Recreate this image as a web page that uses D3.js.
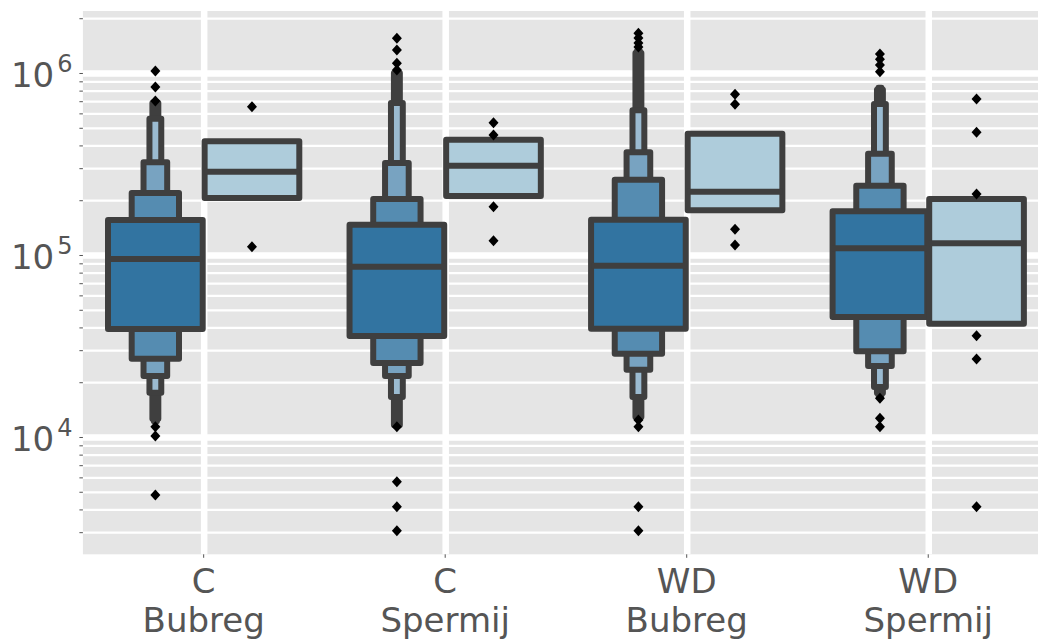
<!DOCTYPE html>
<html>
<head>
<meta charset="utf-8">
<script src="https://cdn.jsdelivr.net/npm/d3@7"></script>
<style>
  body { margin: 0; background: #fff; }
  svg { display: block; }
  text { font-family: "DejaVu Sans", sans-serif; fill: #555555; }
</style>
</head>
<body>
<svg id="chart" width="1038" height="641"></svg>
<script>
// ---- data -------------------------------------------------------------
const groupLabels  = ["C", "C", "WD", "WD"];
const tissueLabels = ["Bubreg", "Spermij", "Bubreg", "Spermij"];
const categories   = ["C Bubreg", "C Spermij", "WD Bubreg", "WD Spermij"];
const hueNames     = ["series1", "series2"];

// letter values per category, innermost (quartiles) first: [low, high]
const series1Letters = [
  [[39200, 155700], [26900, 219000], [21600, 323000], [17500, 561000], [12600, 684000], [12200, 695000]],
  [[35900, 146700], [25500, 203100], [21600, 320200], [16590, 684000], [11640, 1000000], [11500, 1015000]],
  [[39360, 156300], [28690, 259300], [23430, 366700], [16590, 623700], [12880, 1288000], [12600, 1320000]],
  [[45630, 173800], [29570, 240400], [24550, 360200], [18820, 675400], [17460, 809400], [17000, 830000]]
];
const series1Medians  = [95000, 86300, 87400, 108800];
const series1Outliers = [
  [1025000, 838000, 702000, 11400, 10130, 4800],
  [1551000, 1338000, 1131000, 1039000, 11400, 5680, 4140, 3055],
  [1652000, 1557000, 1462000, 1390000, 12400, 11400, 4140, 3055],
  [1272000, 1189000, 1106000, 1016500, 16330, 12670, 11400]
];

const series2Letters = [
  [[205700, 421300]],
  [[211000, 430000]],
  [[176000, 464000]],
  [[41930, 203100]]
];
const series2Medians  = [287000, 309500, 222800, 115900];
const series2Outliers = [
  [653000, 111000],
  [533000, 456300, 184200, 119800],
  [763800, 673000, 138400, 113500],
  [719500, 472100, 216400, 36020, 26830, 4140]
];

const yMajorTicks = [1e4, 1e5, 1e6];
const yTickExponents = ["4", "5", "6"];
const yDomain = [2267, 2191000];

// ---- layout -------------------------------------------------------------
const svg = d3.select("#chart");
const plot = { left: 82.9, right: 1049.0, top: 11, bottom: 554.3 };
const ink = "#3f3f3f";
const hueColors = ["#3274a1", "#aeccdb"];

const x = d3.scaleBand().domain(categories).range([plot.left, plot.right]).padding(0);
const bw = x.bandwidth();
const hueX = d3.scaleBand().domain(hueNames).range([-0.4 * bw, 0.4 * bw]).padding(0);
const boxWidth = hueX.bandwidth() * 0.98;
const y = d3.scaleLog().domain(yDomain).range([plot.bottom, plot.top]);

svg.append("defs").append("clipPath").attr("id", "plotclip")
  .append("rect").attr("x", plot.left).attr("y", plot.top)
  .attr("width", plot.right - plot.left).attr("height", plot.bottom - plot.top);

svg.append("rect")
  .attr("x", plot.left).attr("y", plot.top)
  .attr("width", plot.right - plot.left).attr("height", plot.bottom - plot.top)
  .attr("fill", "#e5e5e5");

// minor ticks: 2..9 x 10^k inside the domain
const yMinorTicks = [];
for (let e = 3; e <= 6; e++) {
  for (let m = 2; m <= 9; m++) {
    const v = m * Math.pow(10, e);
    if (v > yDomain[0] && v < yDomain[1]) yMinorTicks.push(v);
  }
}

const grid = svg.append("g").attr("clip-path", "url(#plotclip)");

// minor horizontal grid
grid.append("g")
  .attr("transform", `translate(${plot.left},0)`)
  .call(d3.axisLeft(y).tickValues(yMinorTicks).tickSize(-(plot.right - plot.left)).tickFormat(""))
  .call(g => g.select(".domain").remove())
  .call(g => g.selectAll("line").attr("stroke", "#fff").attr("stroke-width", 2.2));

// major horizontal grid
grid.append("g")
  .attr("transform", `translate(${plot.left},0)`)
  .call(d3.axisLeft(y).tickValues(yMajorTicks).tickSize(-(plot.right - plot.left)).tickFormat(""))
  .call(g => g.select(".domain").remove())
  .call(g => g.selectAll("line").attr("stroke", "#fff").attr("stroke-width", 6.5));

// vertical grid at category centres
const xCenters = categories.map(c => x(c) + bw / 2);
grid.append("g")
  .attr("transform", `translate(0,${plot.bottom})`)
  .call(d3.axisBottom(d3.scalePoint().domain(categories).range([xCenters[0], xCenters[3]]))
    .tickSize(-(plot.bottom - plot.top)).tickFormat(""))
  .call(g => g.select(".domain").remove())
  .call(g => g.selectAll("line").attr("stroke", "#fff").attr("stroke-width", 6.5));

// ---- y axis ticks and labels ----
svg.append("g").attr("transform", `translate(${plot.left},0)`)
  .call(d3.axisLeft(y).tickValues(yMinorTicks.concat(yMajorTicks)).tickSize(3.5).tickFormat(""))
  .call(g => g.select(".domain").remove())
  .call(g => g.selectAll("line").attr("stroke", "#555").attr("stroke-width", 1));

yMajorTicks.forEach((v, i) => {
  const t = svg.append("text")
    .attr("x", 72.5).attr("y", y(v) + 14)
    .attr("text-anchor", "end")
    .attr("font-size", 34);
  t.append("tspan").text("10");
  t.append("tspan").attr("dx", 3).attr("dy", -15).attr("font-size", 24).text(yTickExponents[i]);
});

// ---- x axis ticks and labels ----
svg.append("g").selectAll("line").data(xCenters).join("line")
  .attr("x1", d => d).attr("x2", d => d)
  .attr("y1", plot.bottom).attr("y2", plot.bottom + 3.5)
  .attr("stroke", "#555").attr("stroke-width", 1);

categories.forEach((c, i) => {
  const t = svg.append("text")
    .attr("x", xCenters[i]).attr("y", 593)
    .attr("text-anchor", "middle").attr("font-size", 34);
  t.append("tspan").attr("x", xCenters[i]).text(groupLabels[i]);
  t.append("tspan").attr("x", xCenters[i]).attr("dy", 39).text(tissueLabels[i]);
});

// ---- letter-value boxes ----
const marks = svg.append("g").attr("clip-path", "url(#plotclip)");

function drawBoxen(letters, medians, outliers, hueIdx) {
  const base = hueColors[hueIdx];
  const lighter = d3.interpolateRgb(base, "#ffffff");
  categories.forEach((c, ci) => {
    const cx = x(c) + bw / 2 + hueX(hueNames[hueIdx]) + hueX.bandwidth() / 2;
    const lv = letters[ci];
    const k = lv.length;
    // outermost first so that wider inner boxes sit on top
    for (let j = k - 1; j >= 0; j--) {
      const [lo, hi] = lv[j];
      const w = boxWidth * Math.pow(0.5, j);
      const t = k > 1 ? (j / (k - 1)) * 0.85 : 0;
      marks.append("rect")
        .attr("x", cx - w / 2).attr("width", w)
        .attr("y", y(hi)).attr("height", y(lo) - y(hi))
        .attr("fill", lighter(t))
        .attr("stroke", ink).attr("stroke-width", 6)
        .attr("stroke-linejoin", "round");
    }
    marks.append("line")
      .attr("x1", cx - boxWidth / 2).attr("x2", cx + boxWidth / 2)
      .attr("y1", y(medians[ci])).attr("y2", y(medians[ci]))
      .attr("stroke", ink).attr("stroke-width", 6);
    marks.append("g").selectAll("path").data(outliers[ci]).join("path")
      .attr("transform", d => `translate(${cx},${y(d)})`)
      .attr("d", "M0,-5.5L5,0L0,5.5L-5,0Z")
      .attr("fill", "#000");
  });
}

drawBoxen(series1Letters, series1Medians, series1Outliers, 0);
drawBoxen(series2Letters, series2Medians, series2Outliers, 1);
</script>
</body>
</html>
